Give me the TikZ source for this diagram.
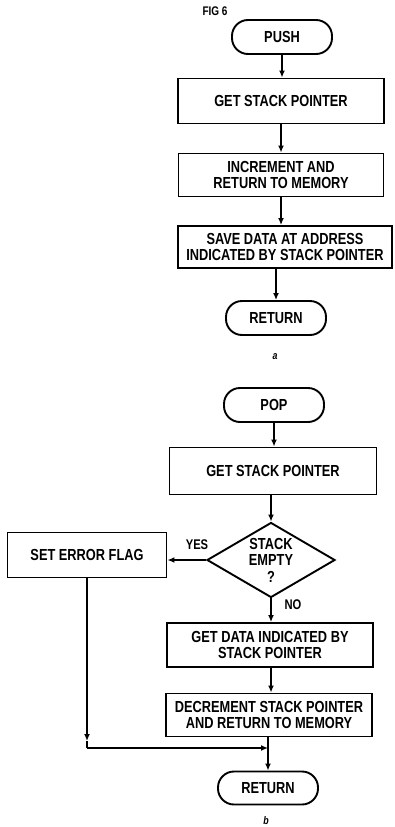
\documentclass[tikz,border=0pt]{standalone}
\usepackage{fontspec}
\setmainfont[FakeStretch=0.8]{Liberation Sans}
\usetikzlibrary{shapes.geometric,arrows.meta}
\begin{document}
\begin{tikzpicture}[x=1pt,y=-1pt,
  every node/.style={font=\bfseries\fontsize{16}{16.5}\selectfont, align=center, inner sep=0pt},
  proc/.style={draw, line width=1.9pt, rectangle},
  term/.style={draw, line width=1.9pt, rectangle, rounded corners=16pt, minimum width=100pt, minimum height=34pt},
  dec/.style={draw, line width=1.9pt, diamond, aspect=1.7, minimum width=128pt, minimum height=75pt},
  conn/.style={line width=1.6pt, -{Latex[length=7pt,width=6pt]}},
  plain/.style={line width=1.6pt},
  lbl/.style={font=\bfseries\fontsize{14}{15}\selectfont},
  sublbl/.style={font=\bfseries\itshape\fontsize{11}{12}\selectfont},
]
\useasboundingbox (0,0) rectangle (394,827);
% part a
\node[lbl, font=\bfseries\fontsize{12.5}{13}\selectfont] (fig) at (215,11) {FIG 6};
\node[term] (push) at (282,37) {PUSH};
\node[proc, minimum width=206pt, minimum height=45pt] (gsp1) at (281,101) {GET STACK POINTER};
\node[proc, minimum width=205pt, minimum height=43pt] (inc) at (281,175) {INCREMENT AND\\RETURN TO MEMORY};
\node[proc, minimum width=214pt, minimum height=42pt] (save) at (285,247) {SAVE DATA AT ADDRESS\\INDICATED BY STACK POINTER};
\node[term] (ret1) at (276,318) {RETURN};
\node[sublbl] (la) at (275,357) {a};
\draw[conn] (push.south) -- (push.south |- gsp1.north);
\draw[conn] (gsp1.south) -- (gsp1.south |- inc.north);
\draw[conn] (inc.south) -- (inc.south |- save.north);
\draw[conn] (ret1.north |- save.south) -- (ret1.north);
% part b
\node[term] (pop) at (274,405) {POP};
\node[proc, minimum width=207pt, minimum height=47pt] (gsp2) at (273,471) {GET STACK POINTER};
\node[dec] (dia) at (271,560) {STACK\\EMPTY\\?};
\node[proc, minimum width=159pt, minimum height=45pt] (err) at (87,555) {SET ERROR FLAG};
\node[proc, minimum width=206pt, minimum height=44pt] (getd) at (270,645) {GET DATA INDICATED BY\\STACK POINTER};
\node[proc, minimum width=206pt, minimum height=43pt] (decr) at (269,715) {DECREMENT STACK POINTER\\AND RETURN TO MEMORY};
\node[term, minimum height=33pt] (ret2) at (268,788) {RETURN};
\node[lbl] (yes) at (197,545) {YES};
\node[lbl] (no) at (293,605) {NO};
\node[sublbl] (lb) at (266,821) {b};
\coordinate (j) at (268,748);
\coordinate (k) at (87,748);
\coordinate (k1) at (87,741);
\draw[conn] (pop.south) -- (pop.south |- gsp2.north);
\draw[conn] (dia.north |- gsp2.south) -- (dia.north);
\draw[conn] (dia.west) -- (dia.west -| err.east);
\draw[conn] (dia.south) -- (dia.south |- getd.north);
\draw[conn] (dia.south |- getd.south) -- (dia.south |- decr.north);
\draw[conn] (err.south) -- (k1);
\draw[plain] (k1) -- (k);
\draw[conn] (k) -- (j);
\draw[plain] (j |- decr.south) -- (j);
\draw[conn] (j) -- (ret2.north);
\end{tikzpicture}
\end{document}
